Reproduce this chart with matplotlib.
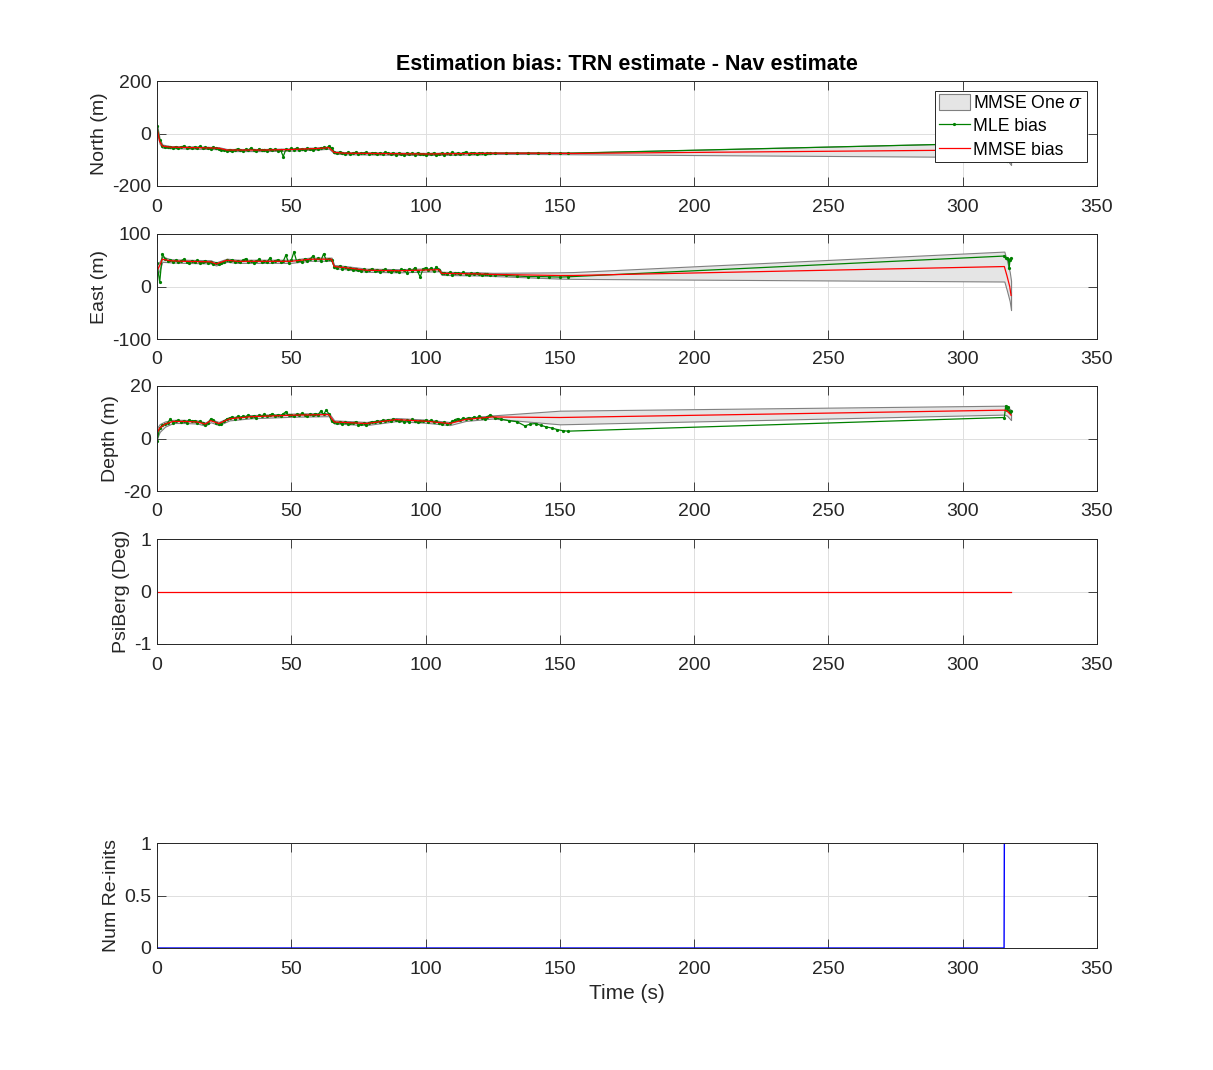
import numpy as np
import matplotlib
matplotlib.use("Agg")
import matplotlib.pyplot as plt
from matplotlib.ticker import FormatStrFormatter

plt.rcParams['font.family'] = ['Liberation Sans', 'DejaVu Sans']
plt.rcParams['font.size'] = 14
plt.rcParams['mathtext.fontset'] = 'dejavuserif'
plt.rcParams['axes.unicode_minus'] = False

# MLE samples, 1 s apart over the first 125 s
t_dense = np.arange(125)

north_mle = [30, -25, -48, -50, -53, -51, -55, -50, -54, -52,
             -47, -55, -53, -56, -51, -54, -49, -57, -53, -55,
             -58, -52, -57, -60, -64, -62, -66, -61, -65, -63,
             -58, -64, -67, -60, -63, -55, -62, -66, -59, -64,
             -61, -65, -58, -63, -60, -66, -62, -88, -60, -63,
             -57, -61, -55, -62, -59, -64, -56, -60, -62, -57,
             -59, -55, -53, -57, -48, -55, -72, -76, -70, -74,
             -77, -72, -78, -75, -71, -79, -74, -76, -72, -78,
             -75, -73, -79, -74, -77, -71, -76, -78, -73, -80,
             -75, -77, -82, -74, -78, -76, -80, -74, -79, -77,
             -82, -76, -79, -74, -80, -77, -75, -81, -76, -78,
             -72, -77, -75, -79, -74, -70, -77, -75, -73, -78,
             -76, -74, -77, -75, -76]
t_north_tail = [126, 130, 134, 138, 142, 146, 150, 153, 315.5, 316, 316.5, 317, 318]
north_tail = [-75, -75, -75, -75, -75, -75, -75, -75, -36, -60, -105, -90, -80]

east_mle = [45, 8, 62, 53, 49, 51, 47, 50, 46, 49,
            52, 47, 45, 49, 46, 50, 44, 47, 49, 45,
            47, 43, 45, 42, 44, 47, 50, 49, 51, 47,
            49, 46, 50, 53, 47, 49, 45, 48, 52, 46,
            49, 47, 54, 46, 49, 51, 47, 48, 60, 45,
            50, 66, 48, 51, 46, 53, 49, 52, 58, 50,
            54, 49, 62, 51, 53, 50, 38, 36, 39, 34,
            37, 33, 35, 31, 34, 32, 30, 33, 29, 31,
            34, 30, 32, 28, 31, 33, 29, 27, 32, 30,
            28, 33, 31, 26, 34, 30, 36, 29, 18, 33,
            36, 31, 35, 29, 38, 32, 25, 26, 24, 27,
            22, 26, 25, 23, 27, 24, 21, 25, 23, 26,
            24, 22, 24, 23, 22]
t_east_tail = [126, 130, 134, 138, 142, 146, 150, 153, 315.5, 316, 316.5, 317, 317.3, 317.6, 318]
east_tail = [22, 21, 20, 19, 19, 18.5, 18, 18.5, 58, 54, 55, 53, 35, 50, 54]

depth_mle = [-1, 4, 5, 5.5, 6, 7.5, 6, 6.5, 7, 6.2,
             6.8, 6, 7.2, 6.5, 6.8, 6, 6.6, 5.8, 5.2, 5.8,
             7.5, 7, 6, 5.5, 5.5, 6.5, 7.5, 7.8, 8.2, 7.6,
             8.4, 8, 8.5, 8.2, 9, 8.3, 8.6, 8, 8.8, 8.4,
             9.2, 8.5, 8.8, 9.5, 8.6, 9, 8.7, 9.4, 10.2, 8.8,
             9, 8.6, 9.2, 8.8, 9.6, 9, 8.7, 9.3, 8.9, 9.5,
             9.1, 10.5, 9.2, 10.8, 9.4, 6.5, 6.2, 5.8, 6.3, 5.6,
             6.1, 5.5, 6, 5.8, 6.4, 5.2, 5.5, 5.9, 5.3, 6,
             6.4, 6.1, 6.8, 6.3, 7, 6.5, 7.2, 6.8, 7.5, 7,
             6.6, 7.1, 6.4, 6.9, 6.3, 7.3, 6.7, 6.2, 6.8, 6.5,
             7, 6.4, 6.9, 6.2, 6.6, 6, 5.7, 6.2, 5.4, 5.8,
             6.5, 7.2, 7.6, 7.1, 7.8, 7.4, 8, 7.6, 8.2, 7.8,
             8.5, 8, 7.6, 8.3, 9]
t_depth_tail = [126, 128, 131, 134, 137, 139, 141, 143, 145, 147, 149, 151, 153,
                315.5, 316, 316.5, 317, 317.5, 318]
depth_tail = [7.8, 7.4, 6.8, 6.4, 4.8, 5.5, 5.7, 5.0, 4.4, 4.0, 3.4, 3.0, 2.8,
              8.0, 12.4, 11, 12, 10, 10.5]

# MMSE estimate and one-sigma
t_north_mmse = [0, 1, 2, 5, 10, 15, 20, 23, 26, 30, 40, 50, 60, 64, 66, 70, 80, 90,
                100, 110, 120, 125, 140, 155, 315.5, 316.5, 318]
north_mmse = [20, -30, -48, -52, -53, -54, -55, -56, -63, -63, -63, -61, -57, -54, -72,
              -75, -76, -77, -78, -77, -76, -75, -75, -76, -62, -70, -85]
north_sig = [15, 10, 6, 4, 4, 4, 4, 4, 4, 4, 4, 4, 4, 4, 4, 4, 4, 4,
             4, 4, 4, 3, 3, 3, 28, 30, 35]

t_east_mmse = [0, 1, 2, 5, 10, 20, 22, 26, 30, 50, 57, 65, 66, 70, 78, 90, 105, 106,
               120, 125, 150, 155, 315.5, 316.5, 317.5, 318]
east_mmse = [30, 40, 52, 49, 48, 47, 43, 50, 48, 48, 52, 52, 38, 36, 31, 30, 32, 25,
             24, 23, 21, 21, 38, 20, 0, -17]
east_sig = [10, 8, 5, 3, 3, 3, 3, 3, 3, 3, 3, 3, 3, 3, 3, 3, 3, 3,
            3, 3, 6, 6.5, 28.5, 28.5, 28, 28]

t_depth_mmse = [0, 1, 3, 6, 10, 15, 18, 20, 23, 27, 35, 51, 64, 66, 78, 89, 100, 109,
                115, 125, 150, 228, 315.5, 316.5, 318]
depth_mmse = [2, 4, 5.5, 6.5, 6.5, 6.3, 5.5, 6.8, 5.7, 7.5, 8.3, 8.9, 9.1, 6.3, 5.7,
              7.2, 6.6, 5.7, 7.3, 8.2, 8.0, 9.3, 10.8, 10.5, 8.9]
depth_sig = [2, 1.5, 1, 0.6, 0.6, 0.6, 0.6, 0.6, 0.6, 0.6, 0.6, 0.6, 0.6, 0.6, 0.6,
             0.6, 0.6, 0.6, 0.6, 0.6, 2.6, 2.2, 1.7, 1.8, 1.9]

t_psi = [0, 318]
psi_bias = [0, 0]

t_reinit = [0, 315.4, 315.5]
num_reinit = [0, 0, 1]

dark = '#262626'


def style(ax, ylim, yticks, ylabel):
    ax.set_xlim(0, 350)
    ax.set_xticks(range(0, 351, 50))
    ax.set_ylim(*ylim)
    ax.set_yticks(yticks)
    ax.set_ylabel(ylabel, color=dark, fontsize=14, labelpad=3)
    ax.grid(True, color='#dedede', linewidth=0.7)
    ax.set_axisbelow(True)
    ax.tick_params(direction='in', top=True, right=True, length=6.5, width=0.6,
                   colors=dark, labelsize=14)
    ax.tick_params(axis='x', pad=9)
    ax.tick_params(axis='y', pad=4)
    for s in ax.spines.values():
        s.set_color(dark)
        s.set_linewidth(0.7)


fig = plt.figure(figsize=(12.13, 10.70), dpi=100)
left, width, height = 157 / 1213, 940 / 1213, 105 / 1070
bottoms = [(1070 - 186) / 1070, (1070 - 339) / 1070, (1070 - 491) / 1070,
           (1070 - 644) / 1070, (1070 - 948) / 1070]
axes = [fig.add_axes([left, b, width, height]) for b in bottoms]

panels = [
    (t_north_mmse, north_mmse, north_sig, north_mle, t_north_tail, north_tail,
     (-200, 200), [-200, 0, 200], 'North (m)'),
    (t_east_mmse, east_mmse, east_sig, east_mle, t_east_tail, east_tail,
     (-100, 100), [-100, 0, 100], 'East (m)'),
    (t_depth_mmse, depth_mmse, depth_sig, depth_mle, t_depth_tail, depth_tail,
     (-20, 20), [-20, 0, 20], 'Depth (m)'),
]

for ax, (tm, mm, sg, mle, tt, tail, yl, yt, lab) in zip(axes[:3], panels):
    tm = np.array(tm)
    mm = np.array(mm, dtype=float)
    sg = np.array(sg, dtype=float)
    t_mle = np.concatenate([t_dense, tt])
    v_mle = np.concatenate([mle, tail])
    ax.fill_between(tm, mm - sg, mm + sg, facecolor='#e5e5e5', edgecolor='#808080',
                    linewidth=0.8, label=r'MMSE One $\sigma$')
    ax.plot(t_mle, v_mle, '.-', color='#008000', linewidth=0.9, markersize=2.6,
            label='MLE bias')
    ax.plot(tm, mm, '-', color='red', linewidth=0.9, label='MMSE bias')
    style(ax, yl, yt, lab)

leg = axes[0].legend(loc='upper right', fontsize=12.7, fancybox=False, framealpha=1,
                     edgecolor=dark, borderaxespad=0.55, handlelength=1.75,
                     handleheight=1.0, handletextpad=0.2, borderpad=0.2,
                     labelspacing=0.3)
leg.get_frame().set_linewidth(0.7)

axes[3].plot(t_psi, psi_bias, color='red', linewidth=0.9)
style(axes[3], (-1, 1), [-1, 0, 1], 'PsiBerg (Deg)')

axes[4].plot(t_reinit, num_reinit, color='blue', linewidth=1.0)
style(axes[4], (0, 1), [0, 0.5, 1], 'Num Re-inits')
axes[4].yaxis.set_major_formatter(FormatStrFormatter('%g'))
axes[4].set_xlabel('Time (s)', color=dark, fontsize=15, labelpad=5)

axes[0].set_title('Estimation bias: TRN estimate - Nav estimate', fontsize=15.5,
                  fontweight='bold', pad=8)

fig.savefig('out.png', dpi=100)
